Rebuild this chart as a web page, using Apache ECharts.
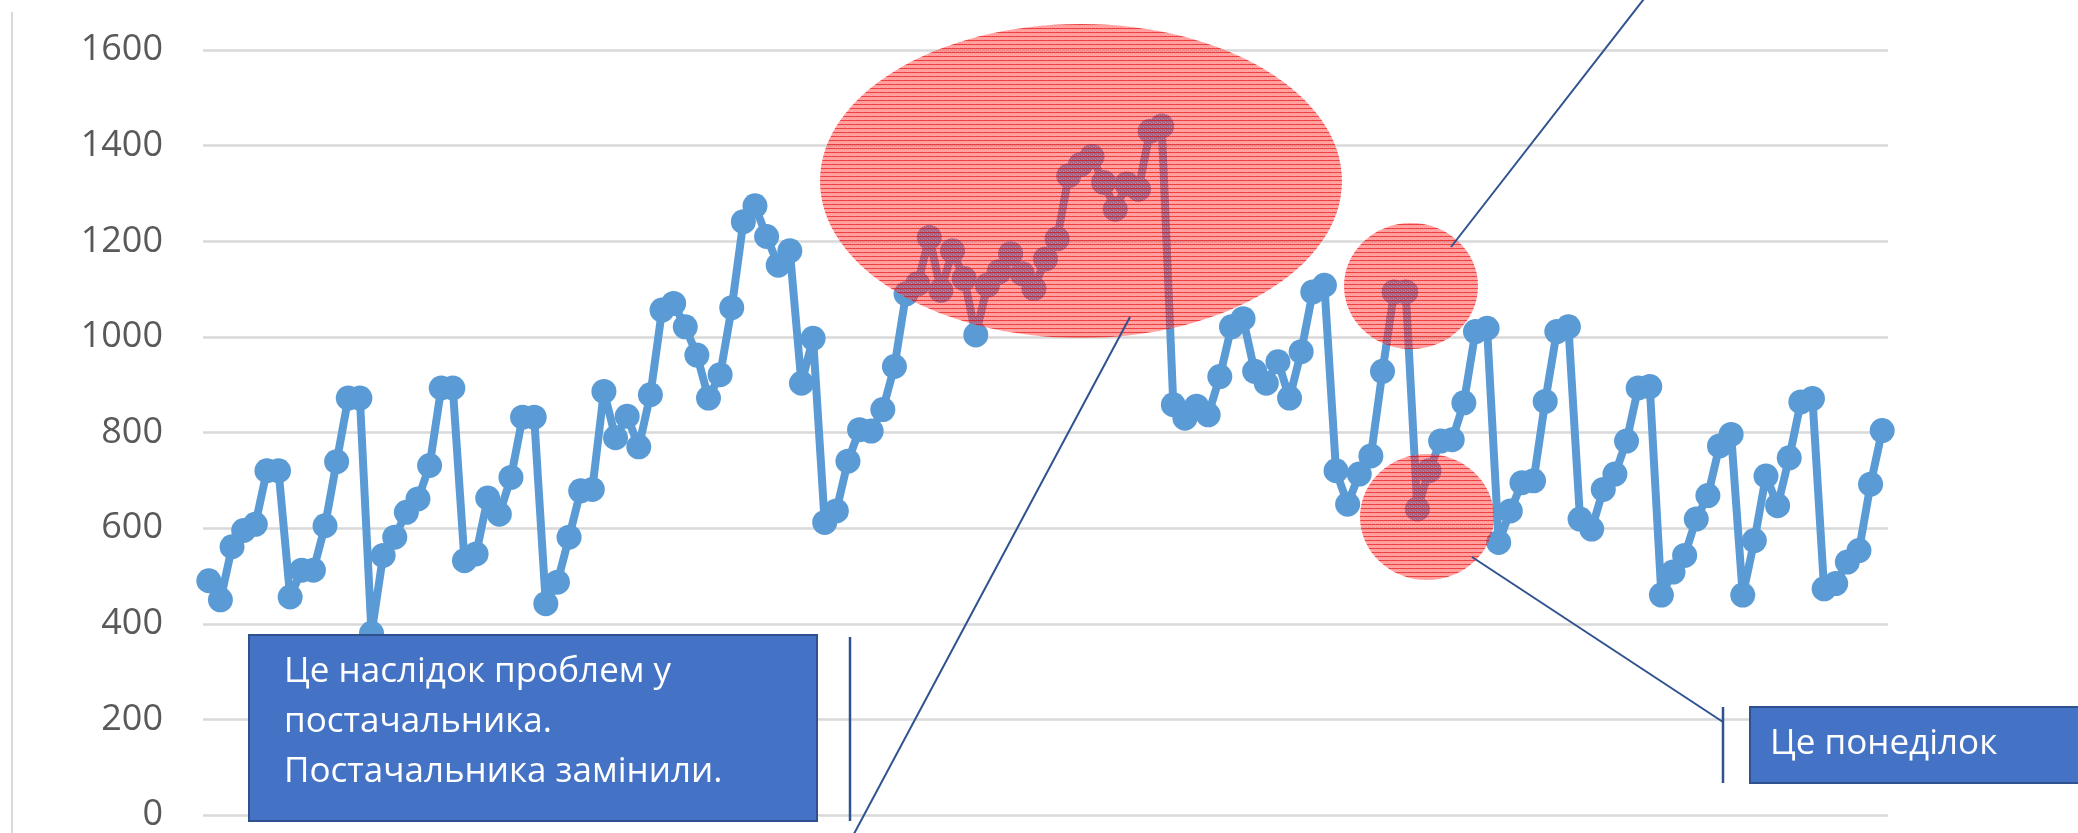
<!DOCTYPE html>
<html>
<head>
<meta charset="utf-8">
<script src="https://cdn.jsdelivr.net/npm/echarts@6/dist/echarts.min.js"></script>
<style>
  html, body { margin: 0; padding: 0; background: #ffffff; }
  #chart { width: 2078px; height: 833px; }
</style>
</head>
<body>
<div id="chart"></div>
<script>
// ---- Data ----
const values = [
  490, 450, 561, 595, 608, 720, 720,
  456, 512, 512, 605, 739, 872, 872,
  380, 543, 581, 633, 661, 731, 893, 893,
  532, 546, 663, 629, 706, 832, 832,
  442, 487, 581, 678, 681, 886, 789, 834, 770, 879,
  1056, 1070, 1021, 962, 872, 921, 1061, 1241, 1274, 1210, 1150, 1180,
  903, 997, 612, 636, 740, 806, 803, 848, 938, 1090, 1111,
  1208, 1097, 1180, 1122, 1004, 1108, 1136, 1174, 1132, 1101, 1163, 1205,
  1337, 1360, 1377, 1323, 1267, 1320, 1309, 1430, 1441,
  858, 830, 855, 837, 917, 1021, 1038, 928, 903, 948, 872, 969, 1094, 1108,
  720, 650, 713, 751, 928, 1094, 1094,
  640, 720, 782, 785, 862, 1011, 1018,
  570, 636, 695, 699, 865, 1011, 1021,
  619, 598, 681, 713, 782, 893, 896,
  460, 508, 543, 619, 668, 772, 796,
  460, 574, 709, 647, 747, 864, 871,
  473, 484, 529, 553, 692, 804
];
const categories = values.map((_, i) => String(i + 1));
const yTicks = [0, 200, 400, 600, 800, 1000, 1200, 1400, 1600];

const note1Lines = ['Це наслідок проблем у', 'постачальника.', 'Постачальника замінили.'];
const note2Text = 'Це понеділок';

// ---- Hatched semi-transparent red fill for the highlight ellipses ----
function makeHatch() {
  const c = document.createElement('canvas');
  c.width = 4; c.height = 4;
  const g = c.getContext('2d');
  g.fillStyle = 'rgba(255,40,40,0.46)';
  g.fillRect(0, 0, 4, 4);
  g.fillStyle = 'rgba(225,0,0,0.58)';
  g.fillRect(0, 0, 4, 1);
  g.fillStyle = 'rgba(255,255,255,0.25)';
  g.fillRect(1, 2, 1, 1);
  g.fillRect(3, 3, 1, 1);
  return { image: c, repeat: 'repeat' };
}
const hatch = makeHatch();

const chart = echarts.init(document.getElementById('chart'), null, { renderer: 'canvas' });

const stroke = '#2F528F';
const font = '35px "Open Sans", "Noto Sans", sans-serif';

chart.setOption({
  animation: false,
  backgroundColor: '#ffffff',
  grid: { left: 203, right: 190, top: 50, bottom: 14, containLabel: false },
  xAxis: {
    type: 'category',
    data: categories,
    boundaryGap: true,
    axisLine: { show: false },
    axisTick: { show: false },
    axisLabel: { show: false },
    splitLine: { show: false }
  },
  yAxis: {
    type: 'value',
    min: yTicks[0],
    max: yTicks[yTicks.length - 1],
    interval: yTicks[1] - yTicks[0],
    axisLine: { show: false },
    axisTick: { show: false },
    axisLabel: {
      color: '#595959',
      fontSize: 36,
      fontFamily: '"Open Sans", "Noto Sans", sans-serif',
      margin: 40,
      formatter: (v) => String(v)
    },
    splitLine: { lineStyle: { color: '#D9D9D9', width: 2.5 } }
  },
  series: [{
    type: 'line',
    data: values,
    symbol: 'circle',
    symbolSize: 25,
    showSymbol: true,
    showAllSymbol: true,
    lineStyle: { color: '#5B9BD5', width: 8 },
    itemStyle: { color: '#5B9BD5' },
    z: 2
  }],
  graphic: [
    { type: 'line', z: 1, shape: { x1: 12, y1: 12, x2: 12, y2: 833 }, style: { stroke: '#D9D9D9', lineWidth: 2 } },
    // highlight ellipses
    { type: 'ellipse', z: 100, shape: { cx: 1081, cy: 181, rx: 261, ry: 157 }, style: { fill: hatch } },
    { type: 'ellipse', z: 100, shape: { cx: 1411, cy: 286, rx: 67, ry: 63 }, style: { fill: hatch } },
    { type: 'ellipse', z: 100, shape: { cx: 1427, cy: 517, rx: 67, ry: 63 }, style: { fill: hatch } },
    // leader lines
    { type: 'line', z: 101, shape: { x1: 1130, y1: 317, x2: 848, y2: 845 }, style: { stroke: stroke, lineWidth: 2 } },
    { type: 'line', z: 101, shape: { x1: 1451, y1: 247, x2: 1647, y2: -5 }, style: { stroke: stroke, lineWidth: 2 } },
    { type: 'line', z: 101, shape: { x1: 1472, y1: 557, x2: 1723, y2: 722 }, style: { stroke: stroke, lineWidth: 2 } },
    // accent bars
    { type: 'line', z: 101, shape: { x1: 850, y1: 637, x2: 850, y2: 821 }, style: { stroke: stroke, lineWidth: 2.5 } },
    { type: 'line', z: 101, shape: { x1: 1723, y1: 707, x2: 1723, y2: 783 }, style: { stroke: stroke, lineWidth: 2.5 } },
    // callout boxes
    { type: 'rect', z: 102, shape: { x: 249, y: 635, width: 568, height: 186 }, style: { fill: '#4472C4', stroke: stroke, lineWidth: 2 } },
    { type: 'text', z: 103, style: { text: note1Lines.join('\n'), x: 284, y: 647, font: font, fill: '#ffffff', lineHeight: 50, verticalAlign: 'top', align: 'left' } },
    { type: 'rect', z: 102, shape: { x: 1750, y: 707, width: 340, height: 76 }, style: { fill: '#4472C4', stroke: stroke, lineWidth: 2 } },
    { type: 'text', z: 103, style: { text: note2Text, x: 1770, y: 744, font: font, fill: '#ffffff', verticalAlign: 'middle', align: 'left' } }
  ]
});
</script>
</body>
</html>
